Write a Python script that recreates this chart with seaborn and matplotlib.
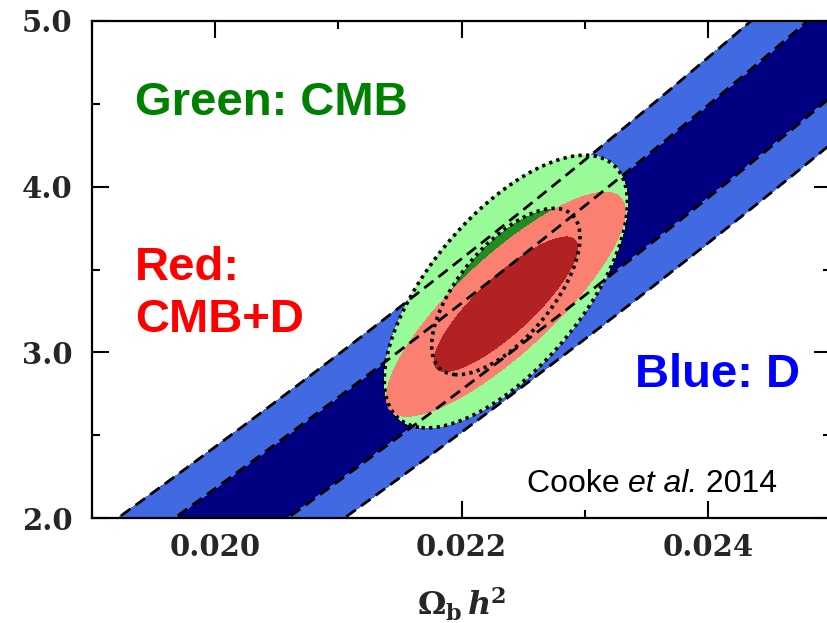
import numpy as np
import matplotlib
matplotlib.use("Agg")
import matplotlib.pyplot as plt
import seaborn as sns
from matplotlib.ticker import MultipleLocator, FixedLocator

# --- D/H constraint: band centre (Omega_b h^2) at a few N_eff values, Gaussian width
band_neff = [2.0, 3.5, 5.0]
band_center = [0.02013, 0.02281, 0.02527]
band_sigma = 0.00046

# --- CMB constraint (2D Gaussian): mean, sigmas, correlation
cmb_mean = [0.02236, 3.367]
cmb_sigma = [0.000397, 0.331]
cmb_rho = 0.65

# --- CMB + D combined constraint
comb_mean = [0.02236, 3.290]
comb_sigma = [0.00039, 0.272]
comb_rho = 0.83

x_range = [0.019, 0.025]
y_range = [2.0, 5.0]
x_ticks = [0.020, 0.022, 0.024]
x_tick_labels = ["0.020", "0.022", "0.024"]
y_ticks = [2.0, 3.0, 4.0, 5.0]
y_tick_labels = ["2.0", "3.0", "4.0", "5.0"]

sns.set_style("ticks")
plt.rcParams["font.family"] = ["Liberation Sans", "DejaVu Sans"]

fig = plt.figure(figsize=(8.27, 6.23), dpi=100)
ax = fig.add_axes([92 / 827, 105 / 623, 739 / 827, 497 / 623])

# likelihood surfaces on a grid
xs = np.linspace(x_range[0] - 1e-4, x_range[1] + 1e-4, 800)
ys = np.linspace(y_range[0] - 0.05, y_range[1] + 0.05, 800)
X, Y = np.meshgrid(xs, ys)

coef = np.polyfit(band_neff, band_center, 2)
chi2_band = ((X - np.polyval(coef, Y)) / band_sigma) ** 2


def gauss_chi2(mean, sig, rho):
    dx = (X - mean[0]) / sig[0]
    dy = (Y - mean[1]) / sig[1]
    return (dx ** 2 - 2 * rho * dx * dy + dy ** 2) / (1 - rho ** 2)


chi2_cmb = gauss_chi2(cmb_mean, cmb_sigma, cmb_rho)
chi2_comb = gauss_chi2(comb_mean, comb_sigma, comb_rho)

band_levels = [0, 1.0, 4.0]
ell_levels = [0, 2.30, 6.18]

ax.contourf(X, Y, chi2_band, levels=band_levels, colors=["#000080", "#4169e1"], zorder=1)
ax.contourf(X, Y, chi2_cmb, levels=ell_levels, colors=["#228b22", "#98fb98"], zorder=2)
ax.contourf(X, Y, chi2_comb, levels=ell_levels, colors=["#b22222", "#fa8072"], zorder=3)

ax.contour(X, Y, chi2_cmb, levels=ell_levels[1:], colors="black",
           linewidths=2.6, linestyles=[(0, (0.9, 1.2))], zorder=4)
ax.contour(X, Y, chi2_band, levels=band_levels[1:], colors="black",
           linewidths=2.0, linestyles=[(0, (4.2, 2.3))], zorder=5)

ax.set_xlim(*x_range)
ax.set_ylim(*y_range)

tick_font = {"family": "DejaVu Serif", "size": 21, "weight": "bold"}
ax.xaxis.set_major_locator(FixedLocator(x_ticks))
ax.yaxis.set_major_locator(FixedLocator(y_ticks))
ax.set_xticklabels(x_tick_labels, fontdict=tick_font)
ax.set_yticklabels(y_tick_labels, fontdict=tick_font)
ax.xaxis.set_minor_locator(MultipleLocator(0.001))
ax.yaxis.set_minor_locator(MultipleLocator(0.5))
ax.tick_params(which="both", direction="in", top=True, right=True, width=1.5, color="black")
ax.tick_params(which="major", length=12.5)
ax.tick_params(which="minor", length=6)
ax.tick_params(axis="y", pad=14)
ax.tick_params(axis="x", pad=11)
for sp in ax.spines.values():
    sp.set_linewidth(1.6)
    sp.set_color("black")
    sp.set_zorder(6)

ax.set_xlabel(r"$\mathbf{\Omega}_{\mathbf{b}}\,\boldsymbol{h}^{\mathbf{2}}$", fontsize=23,
              labelpad=17, math_fontfamily="dejavuserif")

# annotations
label_kw = dict(transform=ax.transAxes, fontsize=34, fontweight="bold",
                ha="left", va="baseline", zorder=7)
ax.text(0.058, 0.811, "Green: CMB", color="#008000", **label_kw)
ax.text(0.058, 0.479, "Red:", color="#ff0000", **label_kw)
ax.text(0.058, 0.374, "CMB+D", color="#ff0000", **label_kw)
ax.text(0.735, 0.2636, "Blue: D", color="#0000ff", **label_kw)

# citation, with the italic part set as its own text piece
cite_kw = dict(fontsize=23, color="black", zorder=7)
t1 = ax.text(0.588, 0.0523, "Cooke ", transform=ax.transAxes,
             ha="left", va="baseline", **cite_kw)
t2 = ax.annotate("et al.", xy=(1, 0), xycoords=t1, ha="left", va="bottom",
                 fontstyle="italic", **cite_kw)
ax.annotate(" 2014", xy=(1, 0), xycoords=t2, ha="left", va="bottom", **cite_kw)

fig.savefig("out.png", dpi=100)
